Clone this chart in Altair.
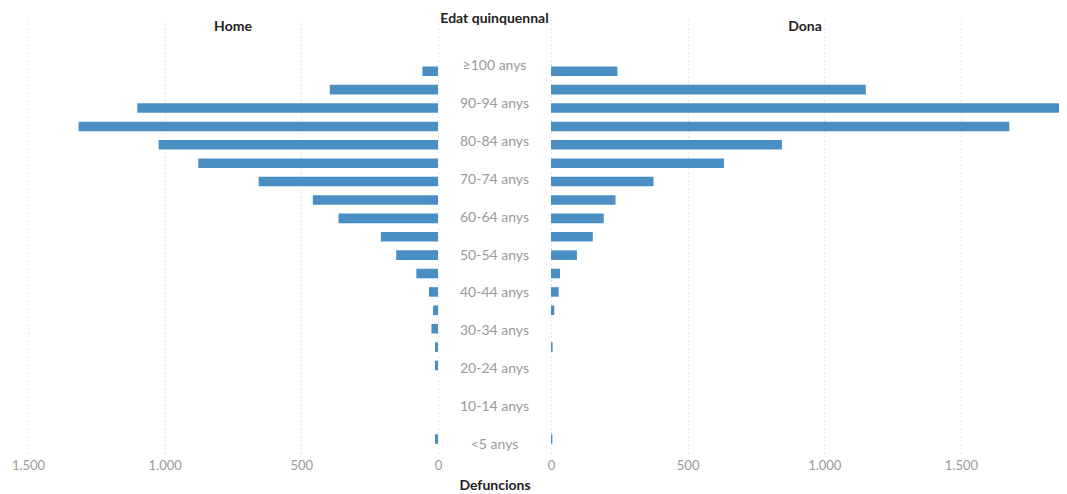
import altair as alt
import pandas as pd

ages = ["<5 anys", "5-9 anys", "10-14 anys", "15-19 anys", "20-24 anys",
        "25-29 anys", "30-34 anys", "35-39 anys", "40-44 anys", "45-49 anys",
        "50-54 anys", "55-59 anys", "60-64 anys", "65-69 anys", "70-74 anys",
        "75-79 anys", "80-84 anys", "85-89 anys", "90-94 anys", "95-99 anys",
        "≥100 anys"]
home = [11, 0, 0, 0, 11, 11, 24, 18, 33, 79, 153, 209, 364, 458, 656,
        877, 1022, 1315, 1100, 396, 57]
dona = [5, 0, 0, 0, 0, 6, 0, 12, 28, 33, 95, 153, 193, 236, 375,
        633, 845, 1677, 1950, 1152, 243]
shown_labels = ["<5 anys", "10-14 anys", "20-24 anys", "30-34 anys", "40-44 anys",
                "50-54 anys", "60-64 anys", "70-74 anys", "80-84 anys", "90-94 anys",
                "≥100 anys"]
x_ticks = [0, 500, 1000, 1500]

df = pd.DataFrame({
    "age": ages,
    "home": home,
    "dona": dona,
    "label": [a if a in shown_labels else "" for a in ages],
})

FONT = "Lato"
BAR = "#4a8fc4"
GRID = "#cfcfcf"
LABEL = "#9a9a9a"
TITLE = "#222222"
H = 435

# two empty slots above the oldest group leave room for the panel titles
y_domain = ["_top1", "_top2"] + ages[::-1]
yenc = alt.Y("age:N", axis=None,
             scale=alt.Scale(domain=y_domain, paddingInner=0.48,
                             paddingOuter=0.567, align=0.56))

def xaxis():
    return alt.Axis(values=x_ticks,
                    labelExpr="replace(format(datum.value, ','), ',', '.')",
                    domain=False, ticks=False, tickSize=0, grid=True,
                    gridDash=[1, 3], gridColor=GRID, gridWidth=1,
                    labelColor=LABEL, labelFontSize=13, labelFont=FONT,
                    labelFlush=False, labelPadding=6, title=None)

def ttl(text, off):
    return alt.TitleParams(text, font=FONT, fontSize=14, fontWeight="bold",
                           color=TITLE, anchor="middle", baseline="top",
                           offset=off)

left = alt.Chart(df).mark_bar(color=BAR).encode(
    x=alt.X("home:Q", scale=alt.Scale(domain=[0, 1500], reverse=True, nice=False),
            axis=xaxis()),
    y=yenc,
    tooltip=["age", "home"],
).properties(width=410, height=H, title=ttl("Home", -16))

middle = alt.Chart(df).mark_text(color=LABEL, font=FONT, fontSize=14,
                                 align="center", baseline="middle").encode(
    x=alt.XDatum(0, type="quantitative",
                 scale=alt.Scale(domain=[-1, 1]),
                 axis=alt.Axis(title="Defuncions", labels=False, ticks=False,
                               tickSize=0, domain=False, grid=False,
                               titleFont=FONT, titleFontSize=14,
                               titleFontWeight="bold", titleColor=TITLE,
                               titlePadding=25)),
    y=yenc,
    text="label:N",
).properties(width=113, height=H, title=ttl("Edat quinquennal", -8))

right = alt.Chart(df).mark_bar(color=BAR, clip=True).encode(
    x=alt.X("dona:Q", scale=alt.Scale(domain=[0, 1859], nice=False),
            axis=xaxis()),
    y=yenc,
    tooltip=["age", "dona"],
).properties(width=508, height=H, title=ttl("Dona", -16))

chart = alt.hconcat(left, middle, right, spacing=0, bounds="flush").properties(
    padding={"left": 3, "top": 4, "right": 0, "bottom": 0}
).configure_view(stroke=None)

chart.save("out.html", embed_options={"renderer": "svg", "actions": False})
